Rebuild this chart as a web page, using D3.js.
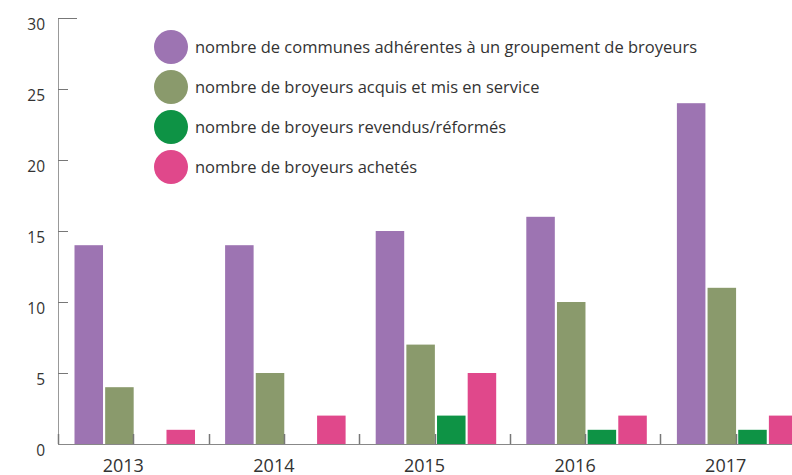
<!DOCTYPE html>
<html>
<head>
<meta charset="utf-8">
<title>Broyeurs 2013-2017</title>
<script src="https://cdn.jsdelivr.net/npm/d3@7"></script>
<style>
  body { margin: 0; background: #fff; }
  text { font-family: "Open Sans", "DejaVu Sans", sans-serif; fill: #333; }
</style>
</head>
<body>
<script>
// data
var years = ["2013", "2014", "2015", "2016", "2017"];
var seriesNames = [
  "nombre de communes adhérentes à un groupement de broyeurs",
  "nombre de broyeurs acquis et mis en service",
  "nombre de broyeurs revendus/réformés",
  "nombre de broyeurs achetés"
];
var communes = [14, 14, 15, 16, 24];
var acquis = [4, 5, 7, 10, 11];
var revendus = [0, 0, 2, 1, 1];
var achetes = [1, 2, 5, 2, 2];
var yTicks = [0, 5, 10, 15, 20, 25, 30];
var colors = ["#9d74b2", "#8a9a6c", "#0e9345", "#e0488b"];

var allSeries = [communes, acquis, revendus, achetes];

var W = 792, H = 475;
var plotLeft = 58, plotBottom = 444, plotTop = 18;

var svg = d3.select("body").append("svg")
    .attr("width", W)
    .attr("height", H);

// scales
var x0 = d3.scaleBand()
    .domain(years)
    .range([plotLeft, plotLeft + 5 * 150.6])
    .padding(0);

var x1 = d3.scaleBand()
    .domain(d3.range(4))
    .range([16.5, 137])
    .paddingInner(0.07);

var y = d3.scaleLinear()
    .domain([0, 30])
    .range([plotBottom, plotTop]);

// bars
var groups = svg.selectAll(".year")
    .data(years)
  .enter().append("g")
    .attr("class", "year")
    .attr("transform", function(d) { return "translate(" + x0(d) + ",0)"; });

groups.selectAll("rect")
    .data(function(d, i) { return allSeries.map(function(s, k) { return {k: k, v: s[i]}; }); })
  .enter().append("rect")
    .attr("x", function(d) { return x1(d.k); })
    .attr("width", x1.bandwidth())
    .attr("y", function(d) { return y(d.v); })
    .attr("height", function(d) { return plotBottom - y(d.v); })
    .attr("fill", function(d) { return colors[d.k]; });

// y axis (ticks pointing right)
var yAxis = svg.append("g")
    .attr("transform", "translate(" + plotLeft + ",0)")
    .call(d3.axisRight(y).tickValues(yTicks).tickSize(10).tickFormat(""));
yAxis.select(".domain").attr("stroke", "#999").attr("d", "M0.5," + plotTop + "V" + plotBottom);
yAxis.selectAll(".tick line").attr("stroke", "#777");
yAxis.selectAll(".tick").filter(function(d) { return d === 30; }).select("line").attr("x2", 19);

svg.selectAll(".ylab")
    .data(yTicks)
  .enter().append("text")
    .attr("class", "ylab")
    .attr("x", 45)
    .attr("y", function(d) { return y(d) + 12; })
    .attr("text-anchor", "end")
    .style("font-size", "15.5px")
    .text(function(d) { return d; });

// x baseline and small ticks
svg.append("line")
    .attr("x1", plotLeft).attr("x2", W)
    .attr("y1", plotBottom + 0.5).attr("y2", plotBottom + 0.5)
    .attr("stroke", "#888");

var halfTicks = [];
years.forEach(function(yr) {
  halfTicks.push(x0(yr));
  halfTicks.push(x0(yr) + x0.bandwidth() / 2);
});
svg.selectAll(".xtick")
    .data(halfTicks)
  .enter().append("line")
    .attr("class", "xtick")
    .attr("x1", function(d) { return Math.round(d) + 0.5; })
    .attr("x2", function(d) { return Math.round(d) + 0.5; })
    .attr("y1", plotBottom - 10).attr("y2", plotBottom)
    .attr("stroke", "#777")
    .attr("stroke-width", 1.5);

svg.selectAll(".xlab")
    .data(years)
  .enter().append("text")
    .attr("class", "xlab")
    .attr("x", function(d) { return x0(d) + x0.bandwidth() / 2 - 10; })
    .attr("y", 472)
    .attr("text-anchor", "middle")
    .style("font-size", "18px")
    .text(function(d) { return d; });

// legend
var legend = svg.selectAll(".legend")
    .data(seriesNames)
  .enter().append("g")
    .attr("class", "legend")
    .attr("transform", function(d, i) { return "translate(171," + (47 + i * 40) + ")"; });

legend.append("circle")
    .attr("r", 17)
    .attr("fill", function(d, i) { return colors[i]; });

legend.append("text")
    .attr("x", 24)
    .attr("y", 6)
    .style("font-size", "16.5px")
    .text(function(d) { return d; });
</script>
</body>
</html>
